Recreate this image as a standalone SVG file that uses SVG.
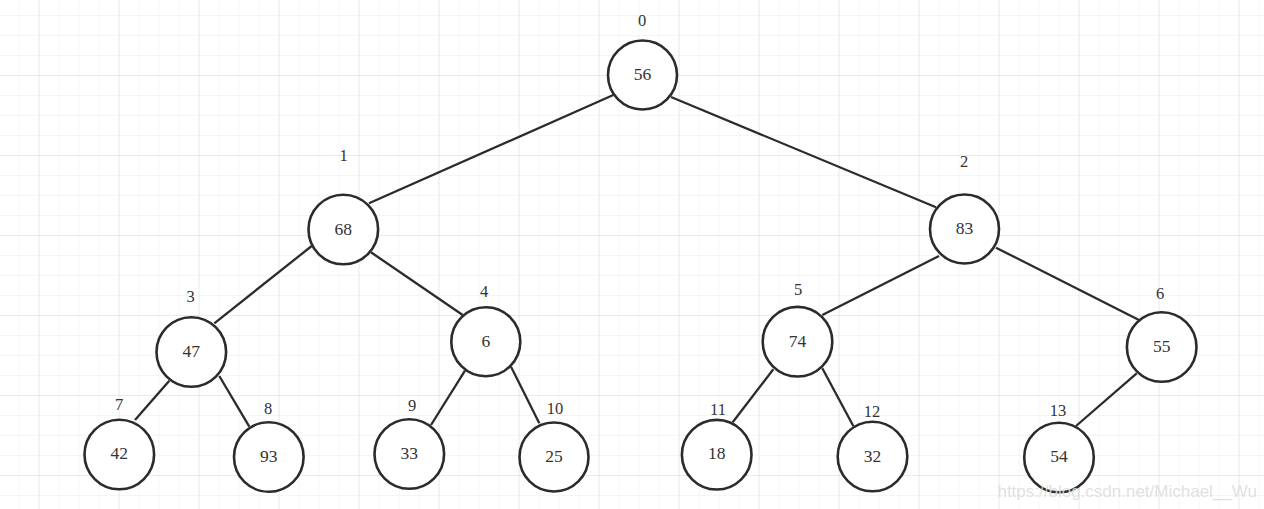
<svg xmlns="http://www.w3.org/2000/svg" width="1264" height="509" viewBox="0 0 1264 509">
<defs>
<pattern id="minor" x="18.5" y="15" width="20" height="20" patternUnits="userSpaceOnUse">
<path d="M0 0H20M0 0V20" fill="none" stroke="#ececec" stroke-width="1"/>
</pattern>
<pattern id="major" x="38.5" y="75" width="80" height="80" patternUnits="userSpaceOnUse">
<path d="M0 0H80M0 0V80" fill="none" stroke="#e0e0e0" stroke-width="1"/>
</pattern>
<style>
.node circle{fill:#fff;stroke:#2b2b2b;stroke-width:2.6}
.node text{font-family:"Liberation Serif","Times New Roman",serif;font-size:17.5px;fill:#333;text-anchor:middle;dominant-baseline:central}
.idx{font-family:"Liberation Serif","Times New Roman",serif;font-size:16.5px;fill:#333;text-anchor:middle;dominant-baseline:central}
#edges line{stroke:#2b2b2b;stroke-width:2.3}
</style>
</defs>
<rect width="1264" height="509" fill="#fff"/>
<rect width="1264" height="509" fill="url(#minor)"/>
<rect width="1264" height="509" fill="url(#major)"/>
<g id="edges">
<line x1="613.3" y1="95" x2="369" y2="203.3"/>
<line x1="671" y1="97" x2="936" y2="207.3"/>
<line x1="311.7" y1="246" x2="214.3" y2="323.3"/>
<line x1="371" y1="252.3" x2="462.7" y2="315"/>
<line x1="939" y1="256" x2="822.3" y2="315"/>
<line x1="996" y1="247.7" x2="1139" y2="320"/>
<line x1="169.3" y1="380.7" x2="135" y2="420"/>
<line x1="219.3" y1="376" x2="249.3" y2="426.7"/>
<line x1="465" y1="370.7" x2="431" y2="425"/>
<line x1="511" y1="366.7" x2="539.3" y2="423.3"/>
<line x1="773.3" y1="369.3" x2="732.7" y2="422.3"/>
<line x1="822.3" y1="368.3" x2="853.3" y2="426"/>
<line x1="1136.7" y1="373.3" x2="1076" y2="426"/>
</g>
<g id="n0" class="node"><circle cx="642.5" cy="75" r="34.5"/><text x="642.5" y="74">56</text></g>
<g id="n1" class="node"><circle cx="343.3" cy="229.5" r="34.8"/><text x="343.3" y="228.5">68</text></g>
<g id="n2" class="node"><circle cx="964.5" cy="229" r="34.5"/><text x="964.5" y="228">83</text></g>
<g id="n3" class="node"><circle cx="191.3" cy="352" r="34.8"/><text x="191.3" y="351">47</text></g>
<g id="n4" class="node"><circle cx="485.8" cy="341.7" r="34.5"/><text x="485.8" y="341">6</text></g>
<g id="n5" class="node"><circle cx="797.5" cy="341.7" r="34.8"/><text x="797.5" y="341">74</text></g>
<g id="n6" class="node"><circle cx="1161.7" cy="347" r="34.8"/><text x="1161.7" y="346">55</text></g>
<g id="n7" class="node"><circle cx="119.3" cy="454.5" r="34.8"/><text x="119.3" y="453">42</text></g>
<g id="n8" class="node"><circle cx="268.8" cy="457" r="34.8"/><text x="268.8" y="456">93</text></g>
<g id="n9" class="node"><circle cx="409.3" cy="454" r="34.8"/><text x="409.3" y="453">33</text></g>
<g id="n10" class="node"><circle cx="554" cy="457" r="34.5"/><text x="554" y="456">25</text></g>
<g id="n11" class="node"><circle cx="716.7" cy="454.7" r="34.8"/><text x="716.7" y="453">18</text></g>
<g id="n12" class="node"><circle cx="872.5" cy="456.5" r="34.8"/><text x="872.5" y="455.5">32</text></g>
<g id="n13" class="node"><circle cx="1059" cy="457.5" r="34.8"/><text x="1059" y="456">54</text></g>
<g id="labels">
<text class="idx" x="642" y="20">0</text>
<text class="idx" x="343.5" y="155">1</text>
<text class="idx" x="964" y="161">2</text>
<text class="idx" x="190.5" y="296">3</text>
<text class="idx" x="484" y="291">4</text>
<text class="idx" x="798" y="289">5</text>
<text class="idx" x="1160" y="293">6</text>
<text class="idx" x="119" y="404">7</text>
<text class="idx" x="268" y="408">8</text>
<text class="idx" x="412" y="405">9</text>
<text class="idx" x="555" y="408">10</text>
<text class="idx" x="718" y="409">11</text>
<text class="idx" x="872" y="411">12</text>
<text class="idx" x="1058" y="410">13</text>
</g>
<text x="1257" y="497" text-anchor="end" font-family="'Liberation Sans',Arial,sans-serif" font-size="17" fill="#ddd" fill-opacity="0.9">https://blog.csdn.net/Michael__Wu</text>
</svg>
